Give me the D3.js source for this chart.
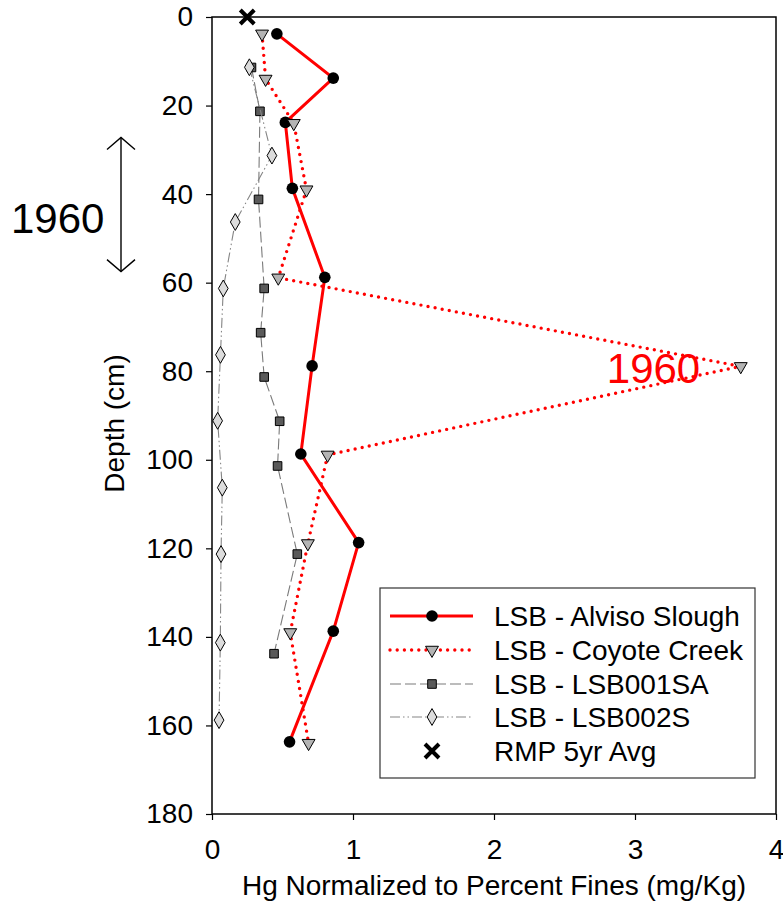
<!DOCTYPE html>
<html>
<head>
<meta charset="utf-8">
<script src="https://cdn.jsdelivr.net/npm/d3@7"></script>
<style>
  html, body { margin: 0; padding: 0; background: #fff; }
  svg { display: block; font-family: "Liberation Sans", Arial, sans-serif; }
</style>
</head>
<body>
<svg id="chart" width="783" height="915"></svg>
<script>
// ---- Data ----
const seriesNames = ["LSB - Alviso Slough", "LSB - Coyote Creek", "LSB - LSB001SA", "LSB - LSB002S", "RMP 5yr Avg"];

const alvisoDepth = [3.8, 13.8, 23.8, 38.7, 58.8, 78.8, 98.7, 118.7, 138.7, 163.7];
const alvisoHg    = [0.46, 0.86, 0.52, 0.57, 0.80, 0.71, 0.63, 1.04, 0.86, 0.55];

const coyoteDepth = [3.8, 14.0, 24.0, 39.0, 58.9, 78.9, 98.9, 118.9, 139.0, 164.0];
const coyoteHg    = [0.355, 0.38, 0.58, 0.67, 0.47, 3.75, 0.82, 0.68, 0.555, 0.685];

const lsb001Depth = [11.4, 21.3, 41.2, 61.3, 71.3, 81.3, 91.3, 101.4, 121.3, 143.8];
const lsb001Hg    = [0.28, 0.34, 0.33, 0.37, 0.345, 0.37, 0.48, 0.465, 0.605, 0.44];

const lsb002Depth = [11.35, 31.3, 46.3, 61.3, 76.3, 91.2, 106.3, 121.3, 141.3, 158.8];
const lsb002Hg    = [0.265, 0.425, 0.165, 0.08, 0.06, 0.04, 0.073, 0.064, 0.059, 0.05];

const rmpDepth = [0];
const rmpHg    = [0.25];

const xTicks = [0, 1, 2, 3, 4];
const yTicks = [0, 20, 40, 60, 80, 100, 120, 140, 160, 180];

const xTitle = "Hg Normalized to Percent Fines (mg/Kg)";
const yTitle = "Depth (cm)";

// annotations (depth / value units)
const arrowSpan = [27.2, 57.5];
const leftLabel = { text: "1960", depth: 48.8 };
const redLabel = { text: "1960", value: 2.80, depth: 82.7 };

// ---- Layout ----
const W = 783, H = 915;
const margin = { top: 17, right: 7, bottom: 101, left: 212 };
const iw = W - margin.left - margin.right;
const ih = H - margin.top - margin.bottom;

const svg = d3.select("#chart");
const g = svg.append("g").attr("transform", `translate(${margin.left},${margin.top})`);

const x = d3.scaleLinear().domain([0, 4]).range([0, iw]);
const y = d3.scaleLinear().domain([0, 180]).range([0, ih]);

const FS = 28;

// axes
const yAxis = g.append("g").call(d3.axisLeft(y).tickValues(yTicks).tickSize(6).tickPadding(13).tickFormat(d3.format("d")));
const xAxis = g.append("g").attr("transform", `translate(0,${ih})`)
  .call(d3.axisBottom(x).tickValues(xTicks).tickSize(6).tickPadding(19).tickFormat(d3.format("d")));
[yAxis, xAxis].forEach(a => {
  a.select(".domain").remove();
  a.selectAll("line").attr("stroke", "#000").attr("stroke-width", 1.2);
  a.selectAll("text").attr("font-size", FS).attr("fill", "#000")
    .attr("font-family", "Liberation Sans, Arial, sans-serif");
});

// frame
g.append("rect").attr("x", 0).attr("y", 0).attr("width", iw).attr("height", ih)
  .attr("fill", "none").attr("stroke", "#000").attr("stroke-width", 1.5);

// titles
svg.append("text").attr("x", margin.left + iw / 2).attr("y", 895)
  .attr("text-anchor", "middle").attr("font-size", FS).text(xTitle);
svg.append("text").attr("transform", `translate(124,${margin.top + ih / 2 + 8}) rotate(-90)`)
  .attr("text-anchor", "middle").attr("font-size", FS).text(yTitle);

// series
const mk = (ds, vs) => ds.map((d, i) => ({ d: d, v: vs[i] }));
const line = d3.line().x(p => x(p.v)).y(p => y(p.d));

const triDown = d3.symbol().type(d3.symbolTriangle).size(72);
const sq = d3.symbol().type(d3.symbolSquare).size(74);
const diam = d3.symbol().type(d3.symbolDiamond).size(82);

const series = [
  { name: seriesNames[0], data: mk(alvisoDepth, alvisoHg), stroke: "#ff0000", sw: 3, dash: null, cap: "butt",
    marker: (sel) => sel.append("circle").attr("r", 5.8).attr("fill", "#000") },
  { name: seriesNames[1], data: mk(coyoteDepth, coyoteHg), stroke: "#ff0000", sw: 3.4, dash: "0 7.2", cap: "round",
    marker: (sel) => sel.append("path").attr("d", triDown).attr("transform", "rotate(180)")
      .attr("fill", "#b4b4b4").attr("stroke", "#000").attr("stroke-width", 1) },
  { name: seriesNames[2], data: mk(lsb001Depth, lsb001Hg), stroke: "#7a7a7a", sw: 1.1, dash: "11 4", cap: "butt",
    marker: (sel) => sel.append("path").attr("d", sq)
      .attr("fill", "#5a5a5a").attr("stroke", "#000").attr("stroke-width", 1) },
  { name: seriesNames[3], data: mk(lsb002Depth, lsb002Hg), stroke: "#858585", sw: 1.1, dash: "10 3 1.5 3 1.5 3", cap: "butt",
    marker: (sel) => sel.append("path").attr("d", diam)
      .attr("fill", "#dcdcdc").attr("stroke", "#000").attr("stroke-width", 1) }
];

const xMark = (sel, s, w) => {
  sel.append("path").attr("d", `M${-s},${-s}L${s},${s}M${-s},${s}L${s},${-s}`)
    .attr("stroke", "#000").attr("stroke-width", w).attr("fill", "none");
};

series.forEach(s => {
  const gg = g.append("g");
  gg.append("path").datum(s.data).attr("d", line).attr("fill", "none")
    .attr("stroke", s.stroke).attr("stroke-width", s.sw)
    .attr("stroke-dasharray", s.dash).attr("stroke-linecap", s.cap);
  s.data.forEach(p => {
    const m = gg.append("g").attr("transform", `translate(${x(p.v)},${y(p.d)})`);
    s.marker(m);
  });
});

// RMP 5yr avg
mk(rmpDepth, rmpHg).forEach(p => {
  xMark(g.append("g").attr("transform", `translate(${x(p.v)},${y(p.d)})`), 7, 4);
});

// annotations
const ax = 121;
const a0 = margin.top + y(arrowSpan[0]), a1 = margin.top + y(arrowSpan[1]);
const ag = svg.append("g").attr("stroke", "#000").attr("stroke-width", 1.4).attr("fill", "none");
ag.append("line").attr("x1", ax).attr("x2", ax).attr("y1", a0).attr("y2", a1);
ag.append("path").attr("d", `M${ax - 14},${a0 + 12}L${ax},${a0}L${ax + 14},${a0 + 12}`);
ag.append("path").attr("d", `M${ax - 14},${a1 - 12}L${ax},${a1}L${ax + 14},${a1 - 12}`);

svg.append("text").attr("x", 11).attr("y", margin.top + y(leftLabel.depth))
  .attr("font-size", 42).attr("fill", "#000").text(leftLabel.text);
g.append("text").attr("x", x(redLabel.value)).attr("y", y(redLabel.depth))
  .attr("font-size", 42).attr("fill", "#ff0000").text(redLabel.text);

// legend
const lg = svg.append("g");
lg.append("rect").attr("x", 380).attr("y", 588).attr("width", 375).attr("height", 190)
  .attr("fill", "#fff").attr("stroke", "#333").attr("stroke-width", 1.2);
const rowY = [616, 650, 684, 717, 751];
series.forEach((s, i) => {
  const r = lg.append("g").attr("transform", `translate(0,${rowY[i]})`);
  r.append("line").attr("x1", 390).attr("x2", 473).attr("y1", 0).attr("y2", 0)
    .attr("stroke", s.stroke).attr("stroke-width", s.sw)
    .attr("stroke-dasharray", s.dash).attr("stroke-linecap", s.cap);
  s.marker(r.append("g").attr("transform", "translate(432,0)"));
  r.append("text").attr("x", 494).attr("y", 10).attr("font-size", FS).text(s.name);
});
const r5 = lg.append("g").attr("transform", `translate(0,${rowY[4]})`);
xMark(r5.append("g").attr("transform", "translate(432,0)"), 7, 4);
r5.append("text").attr("x", 494).attr("y", 10).attr("font-size", FS).text(seriesNames[4]);
</script>
</body>
</html>
